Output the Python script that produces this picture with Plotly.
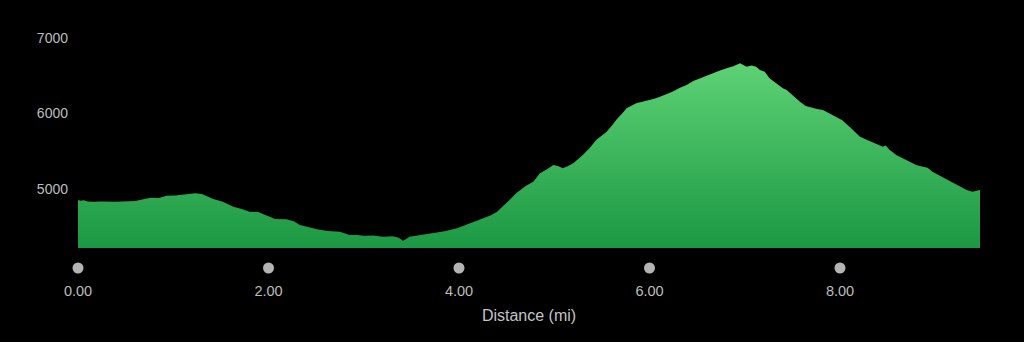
import plotly.graph_objects as go

# Distance along the trail (mi) and elevation (ft)
distance_mi = [0.00, 0.03, 0.06, 0.10, 0.16, 0.25, 0.40, 0.50, 0.60, 0.70, 0.76, 0.85,
               0.93, 1.02, 1.10, 1.17, 1.23, 1.30, 1.42, 1.52, 1.63, 1.72, 1.80, 1.89,
               1.98, 2.07, 2.19, 2.27, 2.33, 2.42, 2.51, 2.62, 2.75, 2.85, 2.93, 3.00,
               3.10, 3.20, 3.30, 3.35, 3.38, 3.41, 3.45, 3.48, 3.60, 3.73, 3.85, 3.98,
               4.10, 4.25, 4.33, 4.40, 4.47, 4.53, 4.60, 4.70, 4.78, 4.85, 4.92, 4.99,
               5.04, 5.09, 5.14, 5.20, 5.30, 5.37, 5.44, 5.55, 5.60, 5.65, 5.72, 5.76,
               5.86, 5.97, 6.05, 6.11, 6.18, 6.24, 6.32, 6.39, 6.46, 6.53, 6.60, 6.67,
               6.74, 6.81, 6.88, 6.95, 6.98, 7.02, 7.07, 7.12, 7.16, 7.21, 7.26, 7.33,
               7.40, 7.44, 7.50, 7.58, 7.64, 7.70, 7.76, 7.82, 7.92, 8.02, 8.10, 8.16,
               8.21, 8.31, 8.38, 8.45, 8.48, 8.52, 8.59, 8.66, 8.73, 8.80, 8.87, 8.92,
               8.97, 9.03, 9.10, 9.16, 9.22, 9.27, 9.33, 9.39, 9.43, 9.47]
elevation_ft = [4854, 4845, 4850, 4836, 4832, 4835, 4830, 4832, 4842, 4868, 4885, 4880,
                4911, 4915, 4925, 4930, 4943, 4935, 4868, 4830, 4766, 4735, 4700, 4695,
                4650, 4603, 4599, 4570, 4523, 4495, 4466, 4445, 4435, 4391, 4392, 4380,
                4385, 4368, 4375, 4360, 4345, 4316, 4340, 4369, 4390, 4413, 4440, 4479,
                4540, 4612, 4650, 4700, 4780, 4854, 4943, 5040, 5097, 5208, 5260, 5318,
                5305, 5274, 5300, 5340, 5450, 5540, 5649, 5759, 5830, 5914, 6010, 6068,
                6135, 6166, 6195, 6223, 6255, 6289, 6340, 6377, 6430, 6466, 6495, 6532,
                6570, 6598, 6625, 6664, 6645, 6620, 6635, 6620, 6576, 6554, 6466, 6400,
                6333, 6311, 6240, 6156, 6100, 6077, 6060, 6046, 5980, 5914, 5825, 5760,
                5693, 5636, 5600, 5561, 5575, 5520, 5450, 5405, 5362, 5318, 5296, 5280,
                5230, 5190, 5142, 5100, 5053, 5030, 4987, 4964, 4975, 4987]

x_ticks = [0, 2, 4, 6, 8]
x_tick_labels = ["0.00", "2.00", "4.00", "6.00", "8.00"]
y_ticks = [5000, 6000, 7000]
y_tick_labels = ["5000", "6000", "7000"]

y_min, y_max = 4219, 7238

fig = go.Figure()
fig.add_trace(go.Scatter(
    x=distance_mi, y=elevation_ft, mode="lines",
    line=dict(width=0, color="#1f9c46"),
    fill="tozeroy",
    fillgradient=dict(type="vertical", start=y_min, stop=max(elevation_ft),
                      colorscale=[[0, "#1b9843"], [1, "#5ed275"]]),
    hoverinfo="skip", showlegend=False,
))
# grey tick dots in a thin strip subplot under the chart
fig.add_trace(go.Scatter(
    x=x_ticks, y=[0] * len(x_ticks), yaxis="y2", mode="markers",
    marker=dict(size=11, color="#b4b4b4"), cliponaxis=False,
    hoverinfo="skip", showlegend=False,
))

# plot area spans y=20..302 px (282 px); main chart bottom at 248 px
fig.update_layout(
    width=1024, height=342,
    margin=dict(l=78, r=44, t=20, b=40),
    paper_bgcolor="#000000", plot_bgcolor="#000000",
    font=dict(family="Liberation Sans, Arial, sans-serif", color="#bdbdbd", size=14),
    xaxis=dict(range=[0, 9.47], showgrid=False, zeroline=False, showline=False,
               anchor="y",
               tickmode="array", tickvals=x_ticks, ticktext=x_tick_labels,
               ticks="", ticklabelstandoff=32, tickfont=dict(size=14.5, color="#bdbdbd"),
               title=dict(text="Distance (mi)", font=dict(size=16, color="#c4c4c4"),
                          standoff=12)),
    yaxis=dict(domain=[54 / 282, 1], range=[y_min, y_max], showgrid=False,
               zeroline=False, showline=False,
               tickmode="array", tickvals=y_ticks, ticktext=y_tick_labels,
               ticks="", ticklabelstandoff=9, tickfont=dict(size=14, color="#bdbdbd")),
    yaxis2=dict(domain=[0, 54 / 282], range=[-34, 20], visible=False, fixedrange=True,
                anchor="x"),
)

fig.write_html("out.html")
